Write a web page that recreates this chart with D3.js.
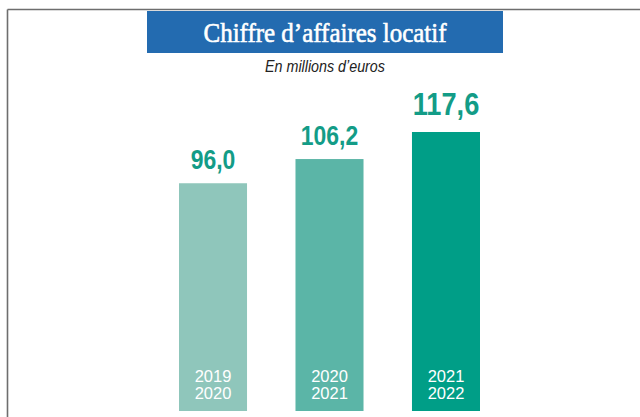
<!DOCTYPE html>
<html>
<head>
<meta charset="utf-8">
<script src="https://cdn.jsdelivr.net/npm/d3@7"></script>
<style>
  body { margin: 0; background: #fff; }
  svg { display: block; }
</style>
</head>
<body>
<div id="chart"></div>
<script>
// data
const periods = [["2019", "2020"], ["2020", "2021"], ["2021", "2022"]];
const values = [96.0, 106.2, 117.6];
const barColors = ["#8fc6bb", "#5bb5a7", "#009e87"];
const title = "Chiffre d\u2019affaires locatif";
const subtitle = "En millions d\u2019euros";

const width = 640;
const height = 417;

const svg = d3.select("#chart").append("svg")
    .attr("width", width)
    .attr("height", height);

// squeeze a text horizontally, no narrow font installed
function condense(sel, k) {
    sel.each(function () {
        const w = this.getComputedTextLength();
        d3.select(this)
            .attr("textLength", w * k)
            .attr("lengthAdjust", "spacingAndGlyphs");
    });
}

// frame (top + left)
svg.append("line")
    .attr("x1", 7.5).attr("y1", 9.5)
    .attr("x2", width).attr("y2", 9.5)
    .attr("stroke", "#6e6e6e")
    .attr("stroke-width", 1.6);
svg.append("line")
    .attr("x1", 7.5).attr("y1", 9.5)
    .attr("x2", 7.5).attr("y2", height)
    .attr("stroke", "#6e6e6e")
    .attr("stroke-width", 1.6);

// title banner
svg.append("rect")
    .attr("x", 147)
    .attr("y", 11)
    .attr("width", 356)
    .attr("height", 42)
    .attr("fill", "#236bb0");

svg.append("text")
    .attr("x", 325)
    .attr("y", 42)
    .attr("text-anchor", "middle")
    .attr("textLength", 243)
    .attr("lengthAdjust", "spacingAndGlyphs")
    .style("font-family", "'Liberation Serif', 'Times New Roman', serif")
    .style("font-size", "28px")
    .attr("fill", "#fff")
    .attr("stroke", "#fff")
    .attr("stroke-width", 0.6)
    .text(title);

svg.append("text")
    .attr("x", 325)
    .attr("y", 72)
    .attr("text-anchor", "middle")
    .style("font-family", "'Liberation Sans', Arial, sans-serif")
    .style("font-size", "17px")
    .style("font-style", "italic")
    .attr("fill", "#222")
    .text(subtitle)
    .call(condense, 0.84);

// scales
const x = d3.scaleBand()
    .domain(d3.range(values.length))
    .range([179, 480])
    .paddingInner(0.416)
    .paddingOuter(0);

const y = d3.scaleLinear()
    .domain([0, d3.max(values)])
    .range([411, 132]);

const labelSize = i => i === values.length - 1 ? 32 : 27;

// bars
svg.selectAll("rect.bar")
    .data(values)
    .enter()
    .append("rect")
    .attr("class", "bar")
    .attr("x", (d, i) => x(i))
    .attr("y", d => y(d))
    .attr("width", x.bandwidth())
    .attr("height", d => y(0) - y(d))
    .attr("fill", (d, i) => barColors[i]);

// value labels
svg.selectAll("text.value")
    .data(values)
    .enter()
    .append("text")
    .attr("class", "value")
    .attr("x", (d, i) => x(i) + x.bandwidth() / 2)
    .attr("y", (d, i) => y(d) - labelSize(i) * 0.53)
    .attr("text-anchor", "middle")
    .style("font-family", "'Liberation Sans', Arial, sans-serif")
    .style("font-weight", "bold")
    .style("font-size", (d, i) => labelSize(i) + "px")
    .attr("fill", "#139c87")
    .text(d => d3.format(".1f")(d).replace(".", ","))
    .call(condense, 0.85);

// period labels inside bars
const periodText = svg.selectAll("text.period")
    .data(periods)
    .enter()
    .append("text")
    .attr("class", "period")
    .attr("text-anchor", "middle")
    .style("font-family", "'Liberation Sans', Arial, sans-serif")
    .style("font-size", "16.5px")
    .attr("fill", "#fff");

periodText.selectAll("tspan")
    .data((d, i) => d.map(t => ({ t, i })))
    .enter()
    .append("tspan")
    .attr("x", d => x(d.i) + x.bandwidth() / 2)
    .attr("y", (d, j) => 382 + j * 17)
    .text(d => d.t);
</script>
</body>
</html>
